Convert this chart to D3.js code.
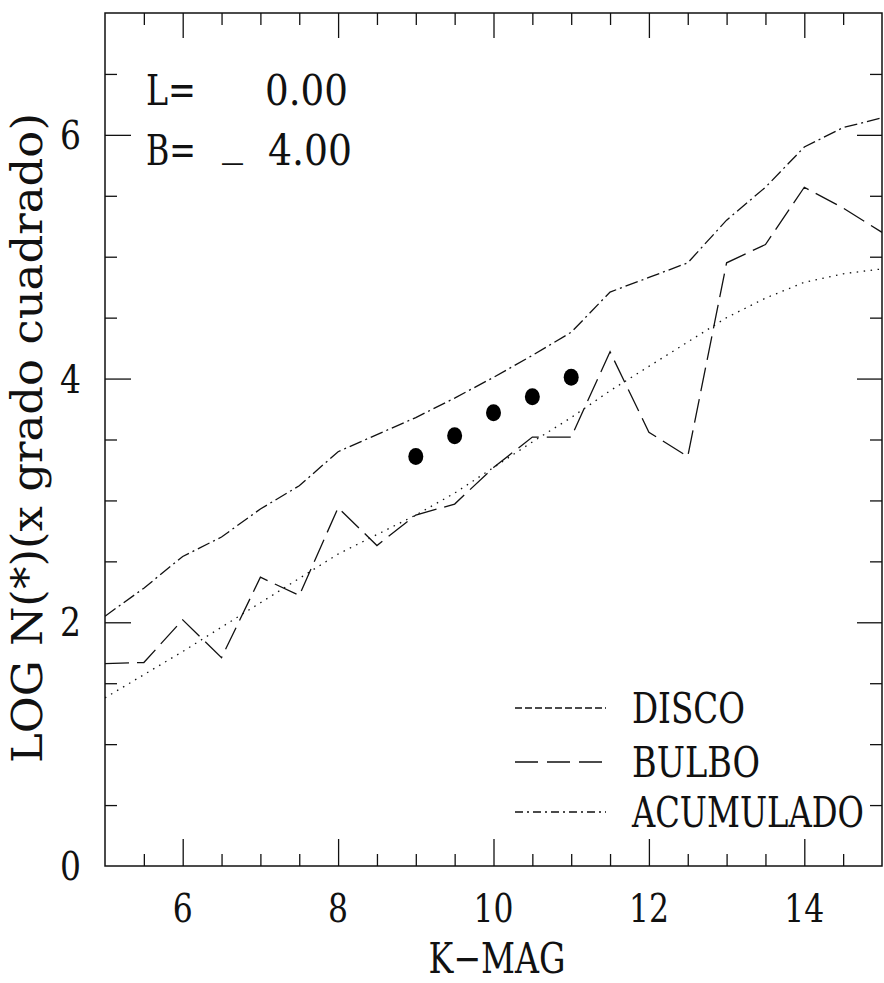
<!DOCTYPE html>
<html>
<head>
<meta charset="utf-8">
<script src="https://cdn.jsdelivr.net/npm/d3@7"></script>
<style>
  body { margin: 0; background: #fff; }
  svg { display: block; }
  svg text { font-family: "DejaVu Serif", "Liberation Serif", "Times New Roman", serif; }
</style>
</head>
<body>
<div class="chart"></div>
<script>
// K magnitude bins
const kmag = [5, 5.5, 6, 6.5, 7, 7.5, 8, 8.5, 9, 9.5, 10, 10.5, 11, 11.5, 12, 12.5, 13, 13.5, 14, 14.5, 15]
// log N for each model component
const disco = [1.38, 1.57, 1.76, 1.96, 2.16, 2.36, 2.56, 2.72, 2.88, 3.06, 3.27, 3.48, 3.68, 3.90, 4.10, 4.30, 4.50, 4.66, 4.79, 4.86, 4.90]
const bulbo = [1.66, 1.67, 2.02, 1.71, 2.37, 2.22, 2.94, 2.63, 2.88, 2.97, 3.27, 3.52, 3.52, 4.22, 3.56, 3.36, 4.95, 5.10, 5.57, 5.40, 5.20]
const acumulado = [2.05, 2.28, 2.54, 2.70, 2.93, 3.12, 3.40, 3.54, 3.68, 3.84, 4.01, 4.19, 4.38, 4.71, 4.83, 4.95, 5.30, 5.57, 5.90, 6.06, 6.14]
// observed counts
const obsK = [9, 9.5, 10, 10.5, 11]
const obsLog = [3.36, 3.53, 3.72, 3.85, 4.01]

const xTickLabels = [6, 8, 10, 12, 14]
const yTickLabels = [0, 2, 4, 6]
const legendNames = ["DISCO", "BULBO", "ACUMULADO"]

const W = 884, H = 983
const box = {left: 105, right: 882, top: 13, bottom: 866}
const ink = "#111"

const svg = d3.select(".chart")
  .append("svg")
    .attr("width", W)
    .attr("height", H)

const x = d3.scaleLinear().domain([5, 15]).range([box.left, box.right])
const y = d3.scaleLinear().domain([0, 7]).range([box.bottom, box.top])

// tick positions every 0.5
const xMinor = d3.range(5.5, 15, 0.5).filter(d => d % 2 != 0)
const xMajor = d3.range(6, 15, 2)
const yMinor = d3.range(0.5, 7, 0.5).filter(d => d % 2 != 0)
const yMajor = [2, 4, 6]

function tickAxis(gen, scale, vals, size, tx, ty) {
  const g = svg.append("g")
    .attr("transform", `translate(${tx},${ty})`)
    .call(gen(scale).tickValues(vals).tickSize(size).tickFormat(""))
  g.select(".domain").remove()
  g.selectAll("line").attr("stroke", ink).attr("stroke-width", 1.3)
}

// text squeezed horizontally to the width the old plotter font had
function fitted(parent, str, tx, ty, size, width, anchor) {
  const t = parent.append("text")
    .attr("font-size", size)
    .attr("text-anchor", anchor || "start")
    .attr("fill", ink)
    .text(str)
  const w = t.node().getComputedTextLength()
  const s = Math.min(1, width / w)
  t.attr("transform", `translate(${tx},${ty}) scale(${s},1)`)
  return t
}

// inward ticks on all four sides
tickAxis(d3.axisTop, x, xMinor, 12, 0, box.bottom)
tickAxis(d3.axisTop, x, xMajor, 27, 0, box.bottom)
tickAxis(d3.axisBottom, x, xMinor, 12, 0, box.top)
tickAxis(d3.axisBottom, x, xMajor, 25, 0, box.top)
tickAxis(d3.axisRight, y, yMinor, 12, box.left, 0)
tickAxis(d3.axisRight, y, yMajor, 26, box.left, 0)
tickAxis(d3.axisLeft, y, yMinor, 12, box.right, 0)
tickAxis(d3.axisLeft, y, yMajor, 25, box.right, 0)

// frame
svg.append("rect")
  .attr("x", box.left).attr("y", box.top)
  .attr("width", box.right - box.left).attr("height", box.bottom - box.top)
  .attr("fill", "none").attr("stroke", ink).attr("stroke-width", 1.5)

// tick labels
const labels = svg.append("g")
xTickLabels.forEach(d => fitted(labels, d, x(d), 922, 40, String(d).length * 20, "middle"))
yTickLabels.forEach(d => fitted(labels, d, 81, y(d) + 14, 40, 21, "end"))

// axis titles
fitted(svg, "K\u2212MAG", 497, 973, 42, 137, "middle")

svg.append("text")
  .attr("transform", "translate(42,438) rotate(-90)")
  .attr("text-anchor", "middle")
  .attr("font-size", 42)
  .attr("fill", ink)
  .attr("textLength", 650).attr("lengthAdjust", "spacingAndGlyphs")
  .text("LOG N(*)(x grado cuadrado)")

// L / B annotation
const note = svg.append("g")
fitted(note, "L=", 146, 105, 42, 50)
fitted(note, "0.00", 265, 105, 42, 83)
fitted(note, "B=", 146, 165, 42, 50)
fitted(note, "_", 222, 155, 42, 23)
fitted(note, "4.00", 268, 165, 42, 84)

// model curves
const series = [
  {name: "DISCO", values: disco, dash: "1.5,5.5", legendDash: "7,3"},
  {name: "BULBO", values: bulbo, dash: "24,8", legendDash: "23,9"},
  {name: "ACUMULADO", values: acumulado, dash: "13,4,2,4", legendDash: "8,4,2,4"}
]

const line = d3.line()
  .x(d => x(d[0]))
  .y(d => y(d[1]))

svg.append("clipPath").attr("id", "plot")
  .append("rect").attr("x", box.left).attr("y", box.top)
  .attr("width", box.right - box.left).attr("height", box.bottom - box.top)

svg.append("g").attr("clip-path", "url(#plot)")
  .selectAll("path")
  .data(series)
  .join("path")
    .attr("fill", "none")
    .attr("stroke", ink)
    .attr("stroke-width", 1.3)
    .attr("stroke-dasharray", d => d.dash)
    .attr("d", d => line(d3.zip(kmag, d.values)))

// observed points
svg.selectAll(".obs")
  .data(d3.zip(obsK, obsLog))
  .join("ellipse")
    .attr("class", "obs")
    .attr("cx", d => x(d[0]))
    .attr("cy", d => y(d[1]))
    .attr("rx", 7.5).attr("ry", 8.5)
    .attr("fill", "#000")

// legend
const legendY = [708, 762, 812]
const legendW = [113, 128, 232]
const legend = svg.append("g")
legend.selectAll("line")
  .data(series)
  .join("line")
    .attr("x1", 515).attr("x2", 606)
    .attr("y1", (d, i) => legendY[i]).attr("y2", (d, i) => legendY[i])
    .attr("stroke", ink).attr("stroke-width", 1.5)
    .attr("stroke-dasharray", d => d.legendDash)
legendNames.forEach((name, i) => fitted(legend, name, 632, legendY[i] + 15, 42, legendW[i]))
</script>
</body>
</html>
